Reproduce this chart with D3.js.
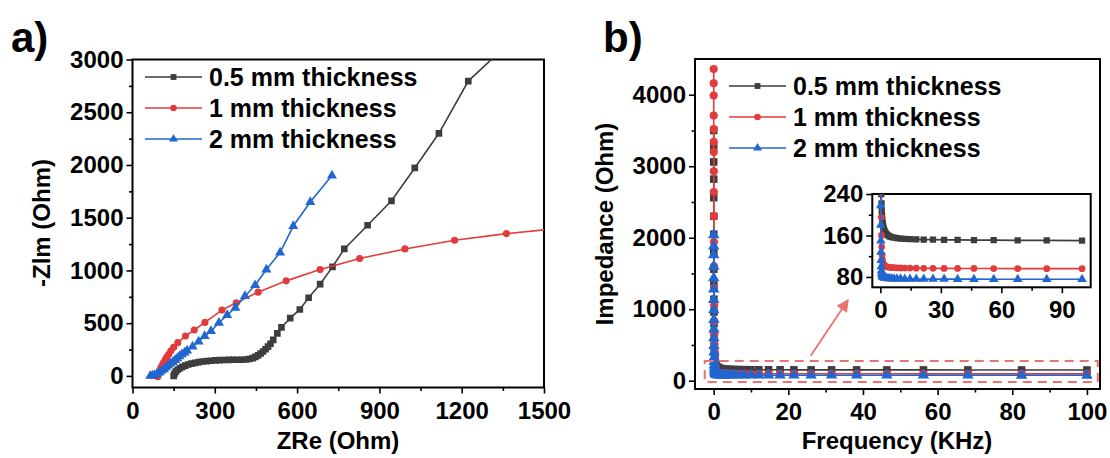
<!DOCTYPE html>
<html>
<head>
<meta charset="utf-8">
<script src="https://cdn.jsdelivr.net/npm/d3@7"></script>
<style>
body { margin: 0; background: #fff; }
text { font-family: "Liberation Sans", Arial, sans-serif; font-weight: bold; fill: #000; }
</style>
</head>
<body>
<script>
// series
var names = ["0.5 mm thickness", "1 mm thickness", "2 mm thickness"];
var colors = ["#3d3d3d", "#e23b3b", "#2266d0"];

// a) Nyquist plot
var zreBlack = [150, 153, 158, 165, 173, 182, 192, 203, 215, 228, 242, 256, 271, 286, 302, 318, 334, 350, 366, 382, 398, 413, 426, 438, 448, 458, 467, 476, 485, 494, 503, 513, 528, 543, 575, 610, 642, 684, 729, 772, 857, 944, 1029, 1117, 1224, 1370];
var zimBlack = [0, 20, 40, 58, 73, 86, 98, 108, 117, 124, 130, 136, 140, 144, 147, 149, 151, 152, 153, 153, 153, 155, 160, 168, 180, 194, 212, 231, 253, 278, 305, 342, 403, 460, 548, 630, 741, 870, 1034, 1204, 1428, 1660, 1972, 2300, 2795, 3150];
var zreRed = [92, 95, 99, 103, 108, 113, 119, 125, 132, 140, 150, 165, 193, 225, 264, 326, 378, 458, 560, 684, 828, 993, 1174, 1363, 1560];
var zimRed = [-8, 25, 50, 75, 100, 125, 150, 178, 205, 238, 271, 315, 378, 435, 507, 624, 693, 794, 901, 1008, 1113, 1204, 1286, 1349, 1400];
var zreBlue = [65, 73, 81, 90, 98, 106, 115, 122, 130, 138, 147, 155, 163, 171, 180, 190, 199, 219, 241, 263, 286, 315, 345, 375, 410, 447, 488, 538, 586, 648, 727];
var zimBlue = [0, 4, 9, 20, 32, 47, 63, 80, 98, 115, 132, 150, 167, 186, 205, 222, 240, 277, 325, 378, 425, 504, 577, 646, 756, 860, 1008, 1169, 1421, 1648, 1900];

// b) impedance vs frequency (kHz)
var freq = [0.01, 0.0121, 0.0147, 0.0178, 0.0215, 0.0261, 0.0316, 0.0383, 0.0464, 0.0562, 0.0681, 0.0825, 0.1, 0.121, 0.147, 0.178, 0.215, 0.261, 0.316, 0.383, 0.464, 0.562, 0.681, 0.825, 1, 1.21, 1.47, 1.78, 2.15, 2.61, 3.16, 3.83, 4.64, 5.62, 6.81, 8.25, 10, 12.1, 14.7, 17.8, 21.5, 26.1, 31.6, 38.3, 46.4, 56.2, 68.1, 82.5, 100];
var impBlack = [3500, 3280, 3060, 2820, 2560, 2300, 2050, 1800, 1560, 1340, 1140, 960, 800, 670, 560, 470, 400, 340, 300, 265, 240, 222, 208, 198, 190, 183, 177, 172, 168, 165, 162, 160, 158, 157, 156, 155, 154, 153.5, 153, 152.5, 152, 152, 151.5, 151.5, 151, 151, 150.5, 150.5, 150];
var impRed = [4360, 4160, 3990, 3710, 3520, 3340, 3200, 2930, 2640, 2300, 1940, 1600, 1300, 1050, 830, 650, 510, 400, 310, 245, 195, 160, 138, 123, 114, 108, 105, 103, 101.5, 100.5, 99.5, 99, 98.5, 98, 97.8, 97.6, 97.4, 97.2, 97, 96.8, 96.7, 96.6, 96.5, 96.4, 96.3, 96.2, 96.1, 96, 96];
var impBlue = [2040, 1880, 1760, 1600, 1436, 1280, 1133, 990, 853, 720, 600, 490, 400, 325, 265, 218, 180, 150, 128, 112, 100, 92, 87, 84, 82, 80.5, 79.5, 78.8, 78.2, 77.8, 77.4, 77.1, 76.9, 76.7, 76.5, 76.4, 76.3, 76.2, 76.1, 76, 75.9, 75.8, 75.8, 75.7, 75.7, 75.6, 75.6, 75.5, 75.5];

// ticks
var aXTicks = [0, 300, 600, 900, 1200, 1500];
var aXMinor = [150, 450, 750, 1050, 1350];
var aYTicks = [0, 500, 1000, 1500, 2000, 2500, 3000];
var aYMinor = [250, 750, 1250, 1750, 2250, 2750];
var bXTicks = [0, 20, 40, 60, 80, 100];
var bXMinor = [10, 30, 50, 70, 90];
var bYTicks = [0, 1000, 2000, 3000, 4000];
var bYMinor = [500, 1500, 2500, 3500];
var inXTicks = [0, 30, 60, 90];
var inXMinor = [15, 45, 75];
var inYTicks = [80, 160, 240];
var inYMinor = [120, 200];

var w = 1110, h = 458;
var svg = d3.select("body").append("svg").attr("width", w).attr("height", h);

var symbols = [d3.symbolSquare, d3.symbolCircle, d3.symbolTriangle];
var symSize = [44, 40, 44];
var fmt = d3.format("d");

function frame(g, x, y, xt, xm, yt, ym, fs, id) {
    var x0 = x.range()[0], x1 = x.range()[1], y0 = y.range()[0], y1 = y.range()[1];
    g.append("g").attr("transform", "translate(0," + y0 + ")")
        .call(d3.axisBottom(x).tickValues(xt).tickSize(6).tickSizeOuter(0).tickPadding(8).tickFormat(fmt));
    g.append("g").attr("transform", "translate(0," + y0 + ")")
        .call(d3.axisBottom(x).tickValues(xm).tickSize(3.5).tickSizeOuter(0).tickFormat(""));
    g.append("g").attr("transform", "translate(" + x0 + ",0)")
        .call(d3.axisLeft(y).tickValues(yt).tickSize(6).tickSizeOuter(0).tickPadding(3).tickFormat(fmt));
    g.append("g").attr("transform", "translate(" + x0 + ",0)")
        .call(d3.axisLeft(y).tickValues(ym).tickSize(3.5).tickSizeOuter(0).tickFormat(""));
    g.selectAll(".domain").remove();
    g.selectAll(".tick line").attr("stroke", "#000").attr("stroke-width", 1.6);
    g.selectAll(".tick text").attr("font-size", fs).attr("font-family", "Liberation Sans, Arial, sans-serif")
        .attr("font-weight", "bold").attr("fill", "#000");
    g.append("rect").attr("x", x0).attr("y", y1).attr("width", x1 - x0).attr("height", y0 - y1)
        .attr("fill", "none").attr("stroke", "#000").attr("stroke-width", 2);
    g.append("clipPath").attr("id", id).append("rect")
        .attr("x", x0).attr("y", y1).attr("width", x1 - x0).attr("height", y0 - y1);
}

function series(g, x, y, xs, ys, i, id, scale) {
    var pts = xs.map(function(d, k) { return [d, ys[k]]; });
    var s = g.append("g").attr("clip-path", "url(#" + id + ")");
    s.append("path").datum(pts)
        .attr("d", d3.line().x(function(d) { return x(d[0]); }).y(function(d) { return y(d[1]); }))
        .attr("fill", "none").attr("stroke", colors[i]).attr("stroke-width", 1.6);
    s.selectAll("path.m").data(pts).enter().append("path").attr("class", "m")
        .attr("transform", function(d) { return "translate(" + x(d[0]) + "," + y(d[1]) + ")"; })
        .attr("d", d3.symbol().type(symbols[i]).size(symSize[i] * (scale || 1)))
        .attr("fill", colors[i]);
}

function legend(g, lx, tx, ys) {
    names.forEach(function(n, i) {
        g.append("line").attr("x1", lx).attr("x2", lx + 57).attr("y1", ys[i]).attr("y2", ys[i])
            .attr("stroke", colors[i]).attr("stroke-width", 1.6);
        g.append("path").attr("transform", "translate(" + (lx + 28.5) + "," + ys[i] + ")")
            .attr("d", d3.symbol().type(symbols[i]).size(34)).attr("fill", colors[i]);
        g.append("text").attr("x", tx).attr("y", ys[i]).attr("dy", "0.35em")
            .attr("font-size", 25).text(n);
    });
}

// ---- panel a
var xa = d3.scaleLinear().domain([0, 1500]).range([132.5, 544]);
var ya = d3.scaleLinear().domain([-110, 3000]).range([387.5, 59.5]);
var ga = svg.append("g");
frame(ga, xa, ya, aXTicks, aXMinor, aYTicks, aYMinor, 24, "clipA");
series(ga, xa, ya, zreBlack, zimBlack, 0, "clipA");
series(ga, xa, ya, zreRed, zimRed, 1, "clipA");
series(ga, xa, ya, zreBlue, zimBlue, 2, "clipA");
legend(ga, 145, 209, [77, 108, 139]);
ga.append("text").attr("x", 338).attr("y", 449).attr("text-anchor", "middle").attr("font-size", 24).text("ZRe (Ohm)");
ga.append("text").attr("transform", "translate(50,223) rotate(-90)").attr("text-anchor", "middle")
    .attr("font-size", 24).text("-Zlm (Ohm)");
svg.append("text").attr("x", 11).attr("y", 52).attr("font-size", 42).text("a)");

// ---- panel b
var xb = d3.scaleLinear().domain([-5, 103.5]).range([695, 1100]);
var yb = d3.scaleLinear().domain([-116, 4500]).range([389, 59]);
var gb = svg.append("g");
frame(gb, xb, yb, bXTicks, bXMinor, bYTicks, bYMinor, 24, "clipB");
series(gb, xb, yb, freq, impBlack, 0, "clipB", 1.3);
series(gb, xb, yb, freq, impRed, 1, "clipB", 1.3);
series(gb, xb, yb, freq, impBlue, 2, "clipB", 1.3);
legend(gb, 729, 793, [86, 117, 148]);
gb.append("text").attr("x", 897).attr("y", 449).attr("text-anchor", "middle").attr("font-size", 24).text("Frequency (KHz)");
gb.append("text").attr("transform", "translate(613,224) rotate(-90)").attr("text-anchor", "middle")
    .attr("font-size", 24).text("Impedance (Ohm)");
svg.append("text").attr("x", 603).attr("y", 52).attr("font-size", 42).text("b)");

// zoom box + arrow
var boxX = [-2.4, 102.9], boxY = [-18, 275];
var arrowFrom = [26, 350], arrowTo = [36, 1130];
var pink = "#e8736f";
gb.append("rect").attr("x", xb(boxX[0])).attr("y", yb(boxY[1]))
    .attr("width", xb(boxX[1]) - xb(boxX[0])).attr("height", yb(boxY[0]) - yb(boxY[1]))
    .attr("fill", "none").attr("stroke", pink).attr("stroke-width", 2).attr("stroke-dasharray", "9,6");
svg.append("defs").append("marker").attr("id", "arr").attr("viewBox", "0 0 10 10")
    .attr("refX", 9).attr("refY", 5).attr("markerWidth", 7).attr("markerHeight", 7).attr("orient", "auto")
    .append("path").attr("d", "M0,0L10,5L0,10z").attr("fill", pink);
gb.append("line").attr("x1", xb(arrowFrom[0])).attr("y1", yb(arrowFrom[1]))
    .attr("x2", xb(arrowTo[0])).attr("y2", yb(arrowTo[1]))
    .attr("stroke", pink).attr("stroke-width", 1.8).attr("marker-end", "url(#arr)");

// inset
var xi = d3.scaleLinear().domain([-4, 104.3]).range([872.3, 1090.7]);
var yi = d3.scaleLinear().domain([60, 240]).range([287.3, 194]);
var gi = svg.append("g");
gi.append("rect").attr("x", 872.3).attr("y", 194).attr("width", 218.4).attr("height", 93.3).attr("fill", "#fff");
frame(gi, xi, yi, inXTicks, inXMinor, inYTicks, inYMinor, 24, "clipI");
series(gi, xi, yi, freq, impBlack, 0, "clipI", 0.9);
series(gi, xi, yi, freq, impRed, 1, "clipI", 0.9);
series(gi, xi, yi, freq, impBlue, 2, "clipI", 0.9);
</script>
</body>
</html>
